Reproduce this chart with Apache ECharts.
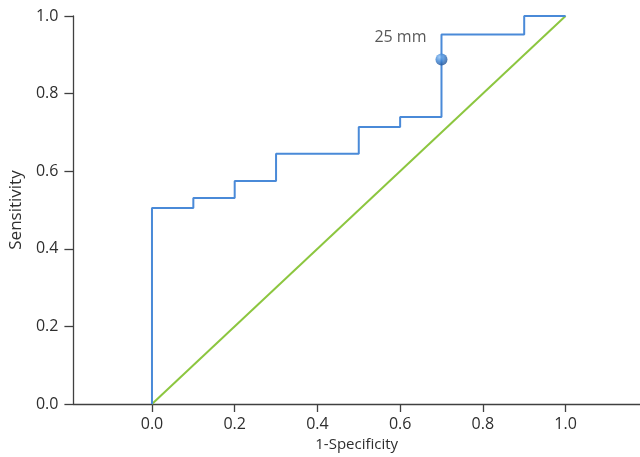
<!DOCTYPE html>
<html>
<head>
<meta charset="utf-8">
<script src="https://cdn.jsdelivr.net/npm/echarts@6/dist/echarts.min.js"></script>
<style>html,body{margin:0;padding:0;background:#fff}#c{width:640px;height:457px}</style>
</head>
<body>
<div id="c"></div>
<script>
// ROC curve data (1-specificity, sensitivity)
var rocFpr = [0, 0, 0.1, 0.2, 0.3, 0.5, 0.6, 0.7, 0.9, 1.0];
var rocTpr = [0, 0.505, 0.531, 0.575, 0.645, 0.714, 0.74, 0.952, 1.0, 1.0];
var refX = [0, 1];
var refY = [0, 1];
var cutFpr = [0.7];
var cutTpr = [0.888];
var cutLabels = ['25 mm'];
var tickValues = [0, 0.2, 0.4, 0.6, 0.8, 1.0];

var FONT = '"Open Sans", "DejaVu Sans", sans-serif';
var TXT = '#2e2e2e';

var rocData = rocFpr.map(function (x, i) { return [x, rocTpr[i]]; });
var refData = refX.map(function (x, i) { return [x, refY[i]]; });
var cutData = cutFpr.map(function (x, i) { return { value: [x, cutTpr[i]], name: cutLabels[i] }; });

var chart = echarts.init(document.getElementById('c'), null, { renderer: 'canvas' });
chart.setOption({
  animation: false,
  backgroundColor: '#fff',
  grid: { left: 73, right: 0, top: 16, bottom: 53, containLabel: false },
  xAxis: [{
    type: 'value', min: -0.19, max: 1.18,
    name: '1-Specificity', nameLocation: 'middle', nameGap: 31,
    nameTextStyle: { color: TXT, fontFamily: FONT, fontSize: 15 },
    axisLine: { show: true, onZero: true, lineStyle: { color: '#404040', width: 1.3 } },
    axisTick: { show: true, length: 8, customValues: tickValues, lineStyle: { color: '#404040', width: 1.3 } },
    axisLabel: { customValues: tickValues, color: TXT, fontFamily: FONT, fontSize: 16, margin: 12,
      formatter: function (v) { return v.toFixed(1); } },
    splitLine: { show: false }
  }, {
    // helper axis only used to anchor the y axis at the left edge of the grid
    type: 'value', min: 0, max: 1, show: false, position: 'bottom'
  }],
  yAxis: {
    type: 'value', min: 0, max: 1, interval: 0.2,
    name: 'Sensitivity', nameLocation: 'middle', nameGap: 46,
    nameTextStyle: { color: TXT, fontFamily: FONT, fontSize: 17 },
    axisLine: { show: true, onZero: true, onZeroAxisIndex: 1, lineStyle: { color: '#404040', width: 1.3 } },
    axisTick: { show: true, length: 9, lineStyle: { color: '#404040', width: 1.3 } },
    axisLabel: { color: TXT, fontFamily: FONT, fontSize: 16, margin: 15,
      formatter: function (v) { return v.toFixed(1); } },
    splitLine: { show: false }
  },
  series: [
    {
      type: 'line', data: refData, symbol: 'none', xAxisIndex: 0,
      lineStyle: { color: '#8cc63f', width: 2 }, z: 2
    },
    {
      type: 'line', data: rocData, step: 'end', symbol: 'none', xAxisIndex: 0,
      lineStyle: { color: '#4a8ad8', width: 2 }, z: 3
    },
    {
      type: 'scatter', data: cutData, symbol: 'circle', symbolSize: 12, z: 5, xAxisIndex: 0,
      itemStyle: {
        color: new echarts.graphic.RadialGradient(0.35, 0.3, 0.75, [
          { offset: 0, color: '#8cc0f5' },
          { offset: 0.45, color: '#3f86d6' },
          { offset: 1, color: '#1d4f93' }
        ])
      },
      label: {
        show: true, position: 'left', distance: 9, offset: [0, -22],
        formatter: function (p) { return p.name; },
        color: TXT, fontFamily: FONT, fontSize: 16
      }
    }
  ]
});
</script>
</body>
</html>
